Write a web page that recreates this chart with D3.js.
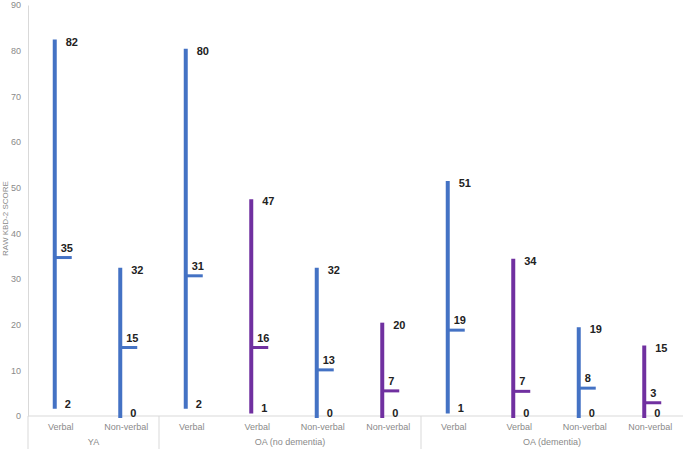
<!DOCTYPE html>
<html>
<head>
<meta charset="utf-8">
<script src="https://cdn.jsdelivr.net/npm/d3@7"></script>
<style>
  html, body { margin: 0; padding: 0; background: #fff; }
  svg { display: block; }
  text { font-family: "Liberation Sans", Arial, sans-serif; }
</style>
</head>
<body>
<svg id="chart" width="685" height="449"></svg>
<script>
// ---- data ----
const groups = ["YA", "OA (no dementia)", "OA (dementia)"];
const groupOf = [0, 0, 1, 1, 1, 1, 2, 2, 2, 2];
const categories = ["Verbal", "Non-verbal", "Verbal", "Verbal", "Non-verbal", "Non-verbal", "Verbal", "Verbal", "Non-verbal", "Non-verbal"];
const seriesIndex = [0, 0, 0, 1, 0, 1, 0, 1, 0, 1];
const highs = [82, 32, 80, 47, 32, 20, 51, 34, 19, 15];
const lows = [2, 0, 2, 1, 0, 0, 1, 0, 0, 0];
const closes = [34.7, 15, 30.7, 15, 10.1, 5.5, 18.8, 5.4, 6.1, 2.9];
const closeLabels = ["35", "15", "31", "16", "13", "7", "19", "7", "8", "3"];
const yTicks = [0, 10, 20, 30, 40, 50, 60, 70, 80, 90];
const yTitle = "RAW KBD-2 SCORE";

// ---- styles ----
const colors = ["#4472C4", "#7030A0"];
const axisColor = "#d9d9d9";
const textGray = "#8a8a8a";

const svg = d3.select("#chart");
const plotLeft = 28, plotRight = 683, plotTop = 5, plotBottom = 416;

const x = d3.scaleBand().domain(d3.range(categories.length)).range([plotLeft, plotRight]);
const y = d3.scaleLinear().domain([0, 90]).range([plotBottom, plotTop]);
const barShift = -6;
const bx = i => x(i) + x.bandwidth() / 2 + barShift;

// y axis
const yAxis = d3.axisLeft(y).tickValues(yTicks).tickSize(0).tickPadding(7);
const gy = svg.append("g").attr("transform", `translate(${plotLeft},0)`).call(yAxis);
gy.select(".domain").attr("stroke", axisColor);
gy.selectAll("text").attr("fill", textGray).style("font-size", "9px")
  .style("font-family", "'Liberation Sans', Arial, sans-serif");

// y title
svg.append("text")
  .attr("transform", `translate(8,${(y(90) + y(0)) / 2 + 8}) rotate(-90)`)
  .attr("text-anchor", "middle")
  .attr("fill", textGray)
  .style("font-size", "8px")
  .text(yTitle);

// x axis line
svg.append("line").attr("x1", plotLeft).attr("x2", plotRight).attr("y1", y(0)).attr("y2", y(0))
  .attr("stroke", axisColor).attr("stroke-width", 1);

// group separators
const boundaries = [0];
for (let i = 1; i < groupOf.length; i++) if (groupOf[i] !== groupOf[i - 1]) boundaries.push(i);
svg.selectAll("line.sep").data(boundaries).join("line").attr("class", "sep")
  .attr("x1", d => x(d)).attr("x2", d => x(d))
  .attr("y1", y(0)).attr("y2", 449)
  .attr("stroke", axisColor).attr("stroke-width", 1);

// category labels
svg.selectAll("text.cat").data(categories).join("text").attr("class", "cat")
  .attr("x", (d, i) => x(i) + x.bandwidth() / 2)
  .attr("y", y(0) + 14)
  .attr("text-anchor", "middle")
  .attr("fill", textGray)
  .style("font-size", "9px")
  .text(d => d);

// group labels
groups.forEach((g, gi) => {
  const idx = d3.range(groupOf.length).filter(i => groupOf[i] === gi);
  const x0 = x(idx[0]), x1 = x(idx[idx.length - 1]) + x.bandwidth();
  svg.append("text")
    .attr("x", (x0 + x1) / 2).attr("y", y(0) + 29)
    .attr("text-anchor", "middle").attr("fill", textGray)
    .style("font-size", "9px").text(g);
});

// high-low lines
const marks = svg.append("g");
marks.selectAll("line.hl").data(d3.range(categories.length)).join("line").attr("class", "hl")
  .attr("x1", i => bx(i)).attr("x2", i => bx(i))
  .attr("y1", i => y(lows[i])).attr("y2", i => y(highs[i]))
  .attr("stroke", i => colors[seriesIndex[i]])
  .attr("stroke-width", 4)
  .attr("stroke-linecap", "square");

// close markers
marks.selectAll("line.cl").data(d3.range(categories.length)).join("line").attr("class", "cl")
  .attr("x1", i => bx(i)).attr("x2", i => bx(i) + 17)
  .attr("y1", i => y(closes[i])).attr("y2", i => y(closes[i]))
  .attr("stroke", i => colors[seriesIndex[i]])
  .attr("stroke-width", 3);

// labels
const lab = svg.append("g").attr("fill", "#222").style("font-size", "11px").style("font-weight", "bold");
lab.selectAll("text.hi").data(d3.range(categories.length)).join("text").attr("class", "hi")
  .attr("x", i => bx(i) + 11).attr("y", i => y(highs[i]) + 4)
  .text(i => highs[i]);
lab.selectAll("text.cl").data(d3.range(categories.length)).join("text").attr("class", "cl")
  .attr("x", i => bx(i) + 6).attr("y", i => y(closes[i]) - 6)
  .text(i => closeLabels[i]);
lab.selectAll("text.lo").data(d3.range(categories.length)).join("text").attr("class", "lo")
  .attr("x", i => bx(i) + 10).attr("y", i => y(lows[i]) + 1)
  .text(i => lows[i]);
</script>
</body>
</html>
